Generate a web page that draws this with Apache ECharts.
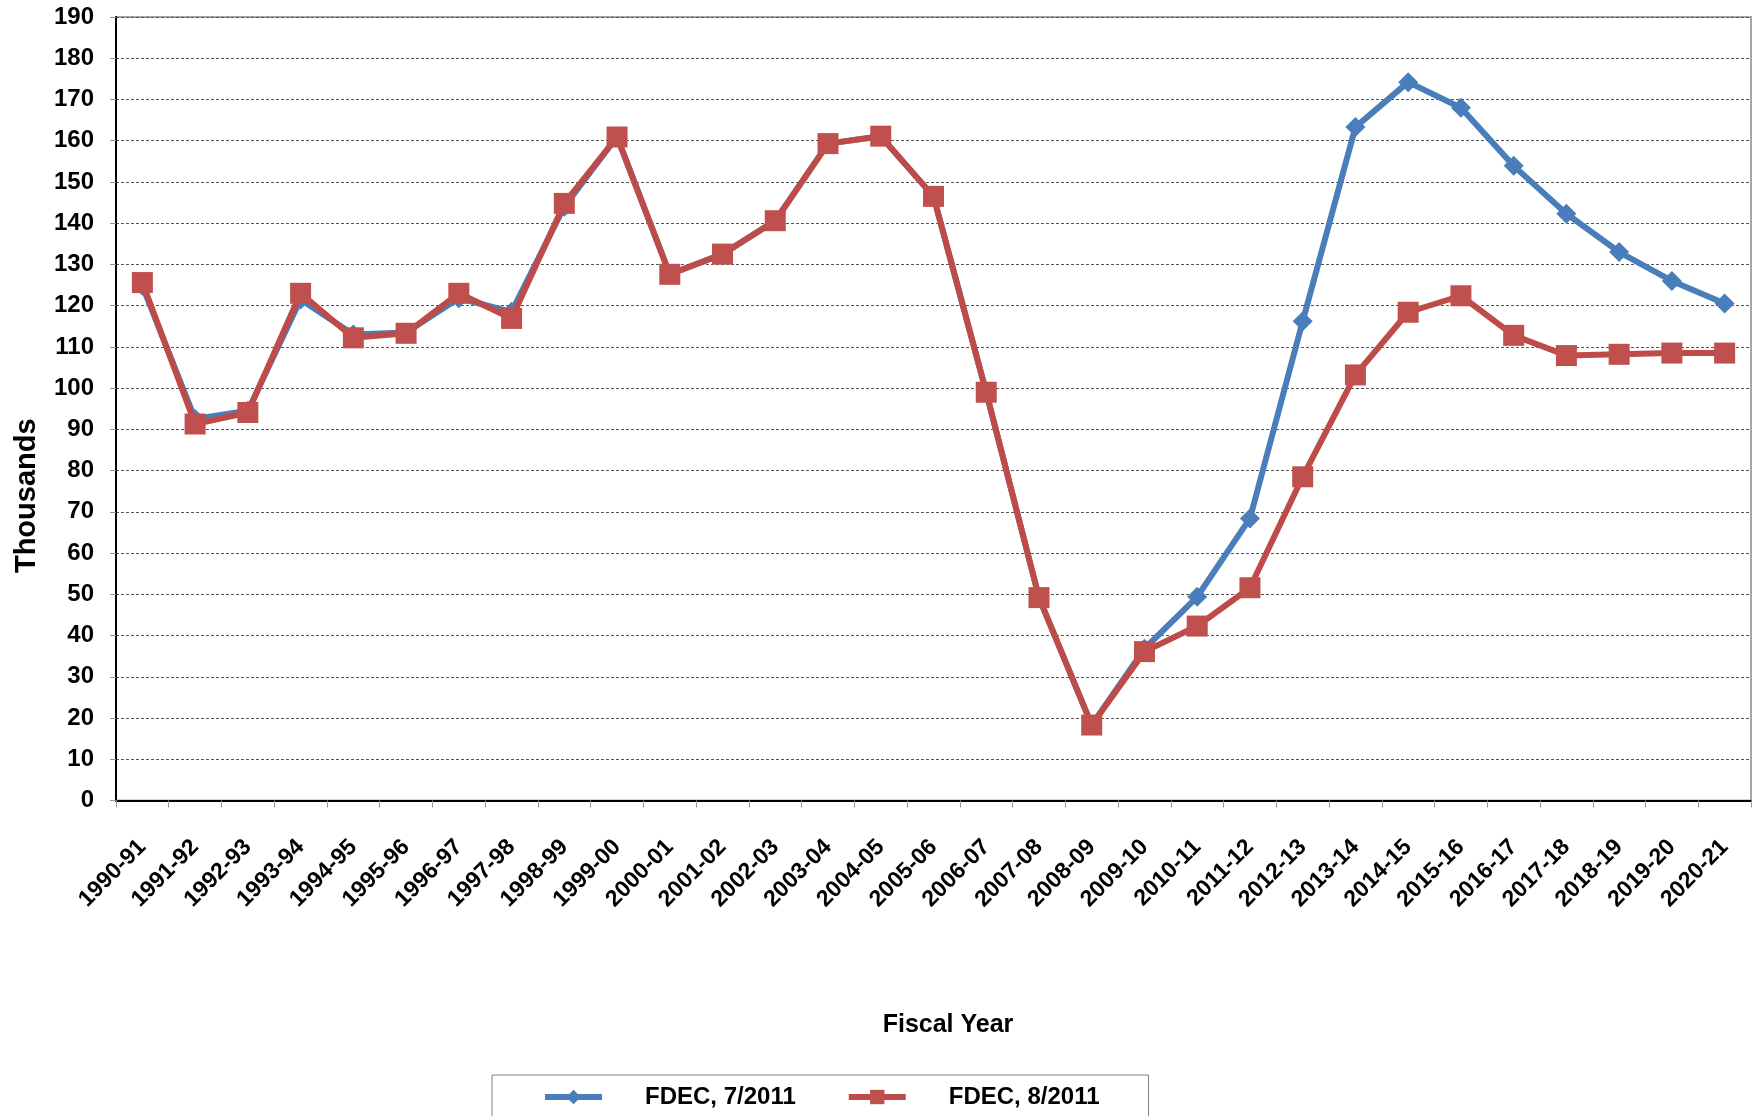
<!DOCTYPE html>
<html>
<head>
<meta charset="utf-8">
<script src="https://cdn.jsdelivr.net/npm/echarts@6/dist/echarts.min.js"></script>
<style>
html,body{margin:0;padding:0;background:#fff;}
#chart{width:1753px;height:1116px;}
</style>
</head>
<body>
<div id="chart"></div>
<script>
var categories = ['1990-91','1991-92','1992-93','1993-94','1994-95','1995-96','1996-97','1997-98','1998-99','1999-00','2000-01','2001-02','2002-03','2003-04','2004-05','2005-06','2006-07','2007-08','2008-09','2009-10','2010-11','2011-12','2012-13','2013-14','2014-15','2015-16','2016-17','2017-18','2018-19','2019-20','2020-21'];
var fdecJul2011 = [124.8,92.5,94.5,121.5,113,113.5,121.8,118.5,144,161,127.6,132.5,140.6,159.3,161.1,146.5,99,49.2,18.3,36.8,49.4,68.4,116.2,163.3,174.2,168,153.9,142.3,133,126,120.5];
var fdecAug2011 = [125.6,91.3,94.1,123.0,112.2,113.3,123.0,116.9,144.8,160.9,127.6,132.5,140.6,159.3,161.1,146.5,99.0,49.2,18.3,36.1,42.3,51.6,78.5,103.2,118.4,122.4,112.8,107.9,108.2,108.5,108.5];
var seriesNames = ['FDEC, 7/2011','FDEC, 8/2011'];
var yAxisName = 'Thousands';
var xAxisName = 'Fiscal Year';

var FONT = '"Liberation Sans", Arial, sans-serif';
var chart = echarts.init(document.getElementById('chart'), null, {renderer:'canvas'});
chart.setOption({
  animation:false,
  backgroundColor:'#fff',
  grid:{left:116,right:2,top:17,bottom:315.5,show:true,borderColor:'#a6a6a6',borderWidth:2,containLabel:false},
  legend:{
    left:492, top:1075,
    width:700,
    padding:[10,49,40,50],
    borderColor:'#7f7f7f', borderWidth:1,
    itemWidth:57, itemHeight:18, itemGap:50,
    lineStyle:{width:6},
    textStyle:{fontFamily:FONT,fontWeight:'bold',fontSize:24,color:'#000',padding:[0,0,0,38]},
    data:seriesNames
  },
  xAxis:{
    type:'category',
    data:categories,
    boundaryGap:true,
    name:xAxisName,
    nameLocation:'middle',
    nameGap:212,
    nameTextStyle:{fontFamily:FONT,fontWeight:'bold',fontSize:25,color:'#000',padding:[0,0,0,29]},
    axisLine:{show:true,lineStyle:{color:'#000',width:2}},
    axisTick:{show:true,alignWithLabel:false,length:7,lineStyle:{color:'#999',width:1}},
    axisLabel:{interval:0,rotate:45,margin:43,fontFamily:FONT,fontWeight:'bold',fontSize:23,color:'#000'},
    splitLine:{show:false}
  },
  yAxis:{
    type:'value',
    min:0,max:190,interval:10,
    name:yAxisName,
    nameLocation:'middle',
    nameRotate:90,
    nameGap:75,
    nameTextStyle:{fontFamily:FONT,fontWeight:'bold',fontSize:29,color:'#000',padding:[0,174,0,0]},
    axisLine:{show:true,lineStyle:{color:'#000',width:2}},
    axisTick:{show:true,length:6,inside:false,lineStyle:{color:'#999',width:1}},
    axisLabel:{margin:22,fontFamily:FONT,fontWeight:'bold',fontSize:24,color:'#000'},
    splitLine:{show:true,lineStyle:{color:'#555',width:1,type:[3,2]}}
  },
  series:[
    {
      name:seriesNames[0], type:'line', data:fdecJul2011,
      symbol:'diamond', symbolSize:20,
      lineStyle:{color:'#4a7ebb',width:6},
      itemStyle:{color:'#4a7ebb'},
      z:2
    },
    {
      name:seriesNames[1], type:'line', data:fdecAug2011,
      symbol:'rect', symbolSize:21,
      lineStyle:{color:'#be4b48',width:6},
      itemStyle:{color:'#c0504d'},
      z:3
    }
  ]
});
</script>
</body>
</html>
